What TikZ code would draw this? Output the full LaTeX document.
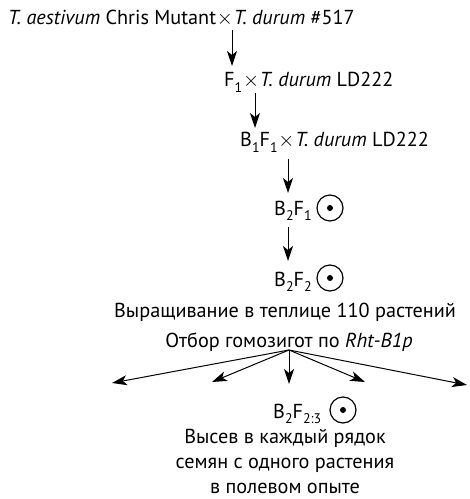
\documentclass[tikz,border=0pt]{standalone}
\usepackage{fontspec}
\setmainfont{PT Sans}
\usetikzlibrary{arrows.meta}
\newcommand\lo[1]{\raisebox{-0.28em}{\fontsize{14}{14}\selectfont #1}}
\newcommand\crx{\hspace{0.8bp}$\times$\hspace{0.8bp}}
\begin{document}
\begin{tikzpicture}[x=1bp,y=-1bp,
  txt/.style={inner sep=0pt,font=\fontsize{20.3}{22}\selectfont},
  arr/.style={-{Stealth[length=15bp,width=10bp,inset=4bp]},line width=1bp},
  dotc/.style={circle,draw,line width=1.2bp,minimum size=26bp,inner sep=0pt}]
\useasboundingbox (0,0) rectangle (470,499);
\node[txt,anchor=base west] (l1) at (8,25) {\textit{T. aestivum} Chris Mutant\crx\textit{T. durum} \#517};
\node[txt,anchor=base west] (l2) at (224,87) {F\lo{1}\crx\textit{T. durum} LD222};
\node[txt,anchor=base west] (l3) at (240,147) {B\lo{1}F\lo{1}\crx\textit{T. durum} LD222};
\node[txt,anchor=base west] (l4) at (274,215) {B\lo{2}F\lo{1}};
\node[dotc] (c4) at (330,208) {};
\fill (c4) circle (3bp);
\node[txt,anchor=base west] (l5) at (274,286) {B\lo{2}F\lo{2}};
\node[dotc] (c5) at (330,278) {};
\fill (c5) circle (3bp);
\node[txt,anchor=base] (l6) at (285,317) {Выращивание в теплице 110 растений};
\node[txt,anchor=base] (l7) at (289,347) {Отбор гомозигот по \textit{Rht-B1p}};
\node[txt,anchor=base west] (l8) at (273,418) {B\lo{2}F\lo{2:3}};
\node[dotc] (c8) at (343,410) {};
\fill (c8) circle (3bp);
\node[txt,anchor=base] (l9) at (285,443) {Высев в каждый рядок};
\node[txt,anchor=base] (l10) at (285,468) {семян с одного растения};
\node[txt,anchor=base] (l11) at (285,493) {в полевом опыте};
% arrow coordinates
\coordinate (a1s) at (232,30); \coordinate (a1e) at (232,66);
\coordinate (a2s) at (255,93); \coordinate (a2e) at (255,128);
\coordinate (a3s) at (288,159); \coordinate (a3e) at (288,193);
\coordinate (a4s) at (288,227); \coordinate (a4e) at (288,261);
\coordinate (f0) at (289,350);
\coordinate (f1) at (112,383); \coordinate (f2) at (212,382);
\coordinate (f3) at (289,384); \coordinate (f4) at (365,382);
\coordinate (f5) at (467,385);
\draw[arr] (a1s) -- (a1e);
\draw[arr] (a2s) -- (a2e);
\draw[arr] (a3s) -- (a3e);
\draw[arr] (a4s) -- (a4e);
\foreach \t in {f1,f2,f3,f4,f5} \draw[arr] (f0) -- (\t);
\end{tikzpicture}
\end{document}
